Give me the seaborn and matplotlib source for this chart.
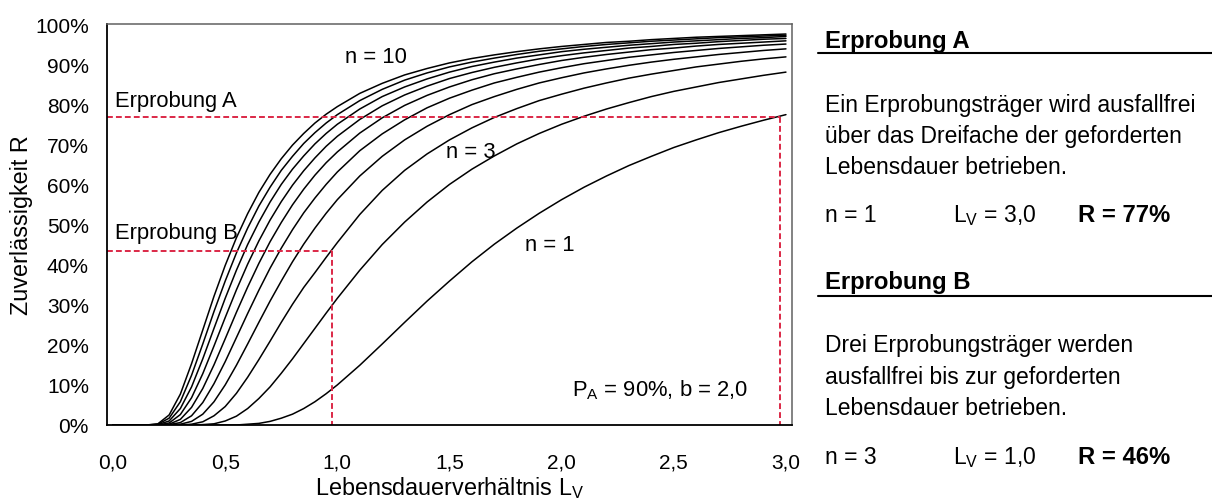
import numpy as np
import pandas as pd
import matplotlib
matplotlib.use("Agg")
import matplotlib.pyplot as plt
import seaborn as sns
from matplotlib.lines import Line2D
from matplotlib.ticker import FixedLocator

# ---------------- data ----------------
L_values = [0.00, 0.05, 0.10, 0.15, 0.20, 0.25, 0.30, 0.35, 0.40, 0.45, 0.50,
            0.55, 0.60, 0.65, 0.70, 0.75, 0.80, 0.85, 0.90, 0.95, 1.00,
            1.1, 1.2, 1.3, 1.4, 1.5, 1.6, 1.7, 1.8, 1.9, 2.0,
            2.1, 2.2, 2.3, 2.4, 2.5, 2.6, 2.7, 2.8, 2.9, 3.0]

R_n1 = [0, 0, 0, 0, 0.000, 0.000, 0.000, 0.000, 0.000, 0.000, 0.000,
        0.000, 0.002, 0.004, 0.009, 0.017, 0.027, 0.041, 0.058, 0.078, 0.100,
        0.149, 0.202, 0.256, 0.309, 0.359, 0.407, 0.451, 0.491, 0.528, 0.562,
        0.593, 0.621, 0.647, 0.670, 0.692, 0.711, 0.729, 0.745, 0.760, 0.774]
R_n2 = [0, 0, 0, 0, 0.000, 0.000, 0.000, 0.000, 0.001, 0.003, 0.010,
        0.022, 0.041, 0.066, 0.095, 0.129, 0.165, 0.203, 0.241, 0.279, 0.316,
        0.386, 0.450, 0.506, 0.556, 0.600, 0.638, 0.671, 0.701, 0.727, 0.750,
        0.770, 0.788, 0.804, 0.819, 0.832, 0.843, 0.854, 0.863, 0.872, 0.880]
R_n3 = [0, 0, 0, 0, 0.000, 0.000, 0.000, 0.002, 0.008, 0.023, 0.046,
        0.079, 0.119, 0.163, 0.209, 0.256, 0.301, 0.343, 0.380, 0.418, 0.455,
        0.525, 0.585, 0.635, 0.676, 0.711, 0.741, 0.767, 0.789, 0.809, 0.825,
        0.840, 0.853, 0.865, 0.875, 0.884, 0.893, 0.900, 0.907, 0.913, 0.918]
R_n4 = [0, 0, 0, 0, 0.000, 0.000, 0.002, 0.009, 0.027, 0.058, 0.100,
        0.149, 0.202, 0.256, 0.309, 0.359, 0.407, 0.451, 0.491, 0.528, 0.562,
        0.621, 0.670, 0.711, 0.745, 0.774, 0.799, 0.819, 0.837, 0.853, 0.866,
        0.878, 0.888, 0.897, 0.905, 0.912, 0.918, 0.924, 0.929, 0.934, 0.938]
R_n5 = [0, 0, 0, 0, 0.000, 0.001, 0.006, 0.023, 0.056, 0.103, 0.158,
        0.218, 0.278, 0.336, 0.391, 0.441, 0.487, 0.529, 0.566, 0.600, 0.631,
        0.684, 0.726, 0.761, 0.791, 0.815, 0.835, 0.853, 0.867, 0.880, 0.891,
        0.901, 0.909, 0.917, 0.923, 0.929, 0.934, 0.939, 0.943, 0.947, 0.950]
R_n6 = [0, 0, 0, 0, 0.000, 0.002, 0.014, 0.044, 0.091, 0.150, 0.215,
        0.281, 0.344, 0.403, 0.457, 0.505, 0.549, 0.588, 0.623, 0.654, 0.681,
        0.728, 0.766, 0.797, 0.822, 0.843, 0.861, 0.876, 0.888, 0.899, 0.909,
        0.917, 0.924, 0.930, 0.936, 0.940, 0.945, 0.949, 0.952, 0.955, 0.958]
R_n7 = [0, 0, 0, 0, 0.000, 0.005, 0.026, 0.068, 0.128, 0.197, 0.268,
        0.337, 0.401, 0.459, 0.511, 0.557, 0.598, 0.634, 0.666, 0.695, 0.720,
        0.762, 0.796, 0.823, 0.845, 0.864, 0.879, 0.892, 0.903, 0.913, 0.921,
        0.928, 0.934, 0.940, 0.944, 0.949, 0.952, 0.956, 0.959, 0.962, 0.964]
R_n8 = [0, 0, 0, 0, 0.001, 0.010, 0.041, 0.095, 0.165, 0.241, 0.316,
        0.386, 0.450, 0.506, 0.556, 0.600, 0.638, 0.671, 0.701, 0.727, 0.750,
        0.788, 0.819, 0.843, 0.863, 0.880, 0.894, 0.905, 0.915, 0.923, 0.931,
        0.937, 0.942, 0.947, 0.951, 0.955, 0.958, 0.961, 0.964, 0.966, 0.969]
R_n9 = [0, 0, 0, 0, 0.002, 0.017, 0.058, 0.124, 0.202, 0.283, 0.359,
        0.429, 0.491, 0.546, 0.593, 0.635, 0.670, 0.702, 0.729, 0.753, 0.774,
        0.809, 0.837, 0.860, 0.878, 0.893, 0.905, 0.915, 0.924, 0.932, 0.938,
        0.944, 0.949, 0.953, 0.957, 0.960, 0.963, 0.966, 0.968, 0.970, 0.972]
R_n10 = [0, 0, 0, 0, 0.003, 0.025, 0.077, 0.153, 0.237, 0.321, 0.398,
         0.467, 0.527, 0.580, 0.625, 0.664, 0.698, 0.727, 0.753, 0.775, 0.794,
         0.827, 0.852, 0.873, 0.889, 0.903, 0.914, 0.923, 0.931, 0.938, 0.944,
         0.949, 0.954, 0.957, 0.961, 0.964, 0.967, 0.969, 0.971, 0.973, 0.975]

series = [R_n1, R_n2, R_n3, R_n4, R_n5, R_n6, R_n7, R_n8, R_n9, R_n10]
series_names = ["n = %d" % (i + 1) for i in range(10)]

# test points (Erprobung A / B) as drawn
test_L = [3.0, 1.0]
test_R = [0.768, 0.434]

x_ticks = [0.0, 0.5, 1.0, 1.5, 2.0, 2.5, 3.0]
x_ticklabels = ["0,0", "0,5", "1,0", "1,5", "2,0", "2,5", "3,0"]
y_ticks = [0.0, 0.1, 0.2, 0.3, 0.4, 0.5, 0.6, 0.7, 0.8, 0.9, 1.0]
y_ticklabels = ["0%", "10%", "20%", "30%", "40%", "50%", "60%", "70%", "80%", "90%", "100%"]

# ---------------- style ----------------
sns.set_style("white")
plt.rcParams["font.family"] = ["Liberation Sans", "DejaVu Sans"]
plt.rcParams["mathtext.fontset"] = "custom"
plt.rcParams["mathtext.rm"] = "Liberation Sans"
plt.rcParams["mathtext.it"] = "Liberation Sans:italic"
plt.rcParams["mathtext.bf"] = "Liberation Sans:bold"
plt.rcParams["text.color"] = "black"
plt.rcParams["axes.labelcolor"] = "black"

FS_TICK = 15
FS_ANN = 15.8
FS_LAB = 16.8
FS_PANEL = 16.5
FS_BOLD = 17.2
W, H = 1212, 502

# Excel category axis: tick marks sit slightly left of the label positions
TICK_SHIFT = 0.025
XMIN, XMAX = -0.027, 3.027

df = pd.concat([pd.DataFrame({"L": L_values, "R": vals, "n": name})
                for vals, name in zip(series, series_names)], ignore_index=True)

fig = plt.figure(figsize=(W / 100, H / 100), dpi=100)
ax = fig.add_axes([107 / W, 1 - 426 / H, (792 - 107) / W, (426 - 25) / H])

sns.lineplot(data=df, x="L", y="R", hue="n", palette=["black"] * 10,
             legend=False, ax=ax, linewidth=1.1, estimator=None, sort=False)

red = "#DC2846"
for tl, tr in zip(test_L, test_R):
    xv = tl - TICK_SHIFT
    ax.plot([XMIN, xv], [tr, tr], color=red, lw=1.4, dashes=(3, 1.6))
    ax.plot([xv, xv], [tr, 0], color=red, lw=1.4, dashes=(3, 1.6))

ax.set_xlim(XMIN, XMAX)
ax.set_ylim(0, 1)
ax.set_xticks(x_ticks, x_ticklabels)
ax.xaxis.set_minor_locator(FixedLocator([t - TICK_SHIFT for t in x_ticks]))
ax.set_yticks(y_ticks, y_ticklabels)
ax.tick_params(axis="x", which="major", length=0, pad=20,
               labelsize=FS_TICK, labelcolor="black")
ax.tick_params(axis="x", which="minor", direction="in", length=5.8,
               width=1.0, color="#555555")
ax.tick_params(axis="y", direction="in", length=5.8, width=1.0,
               color="#555555", labelsize=FS_TICK, labelcolor="black", pad=13)

for s in ["left", "bottom"]:
    ax.spines[s].set_color("black")
    ax.spines[s].set_linewidth(1.3)
for s in ["top", "right"]:
    ax.spines[s].set_color("#606060")
    ax.spines[s].set_linewidth(1.1)

ax.set_xlabel(r"Lebensdauerverhältnis L$_\mathregular{V}$", fontsize=FS_LAB,
              va="baseline")
ax.xaxis.set_label_coords(0.5, (426 - 495) / 401)
ax.set_ylabel("Zuverlässigkeit R", fontsize=FS_LAB, va="center")
ax.yaxis.set_label_coords((22 - 107) / 685, 0.5)

# in-plot annotations
ax.text(1.172, 0.920, "n = 10", fontsize=FS_ANN, ha="center", va="center")
ax.text(0.009, 0.808, "Erprobung A", fontsize=FS_ANN, ha="left", va="center")
ax.text(0.009, 0.481, "Erprobung B", fontsize=FS_ANN, ha="left", va="center")
ax.text(1.596, 0.683, "n = 3", fontsize=FS_ANN, ha="center", va="center")
ax.text(1.948, 0.451, "n = 1", fontsize=FS_ANN, ha="center", va="center")
ax.text(2.046, 0.075, r"P$_\mathregular{A}$ = 90%, b = 2,0", fontsize=FS_ANN,
        ha="left", va="baseline")

# right panel
def ftext(px, py, s, size=FS_PANEL, **kw):
    fig.text(px / W, 1 - py / H, s, fontsize=size, va="baseline", **kw)

def hline(py, x0=818, x1=1212):
    fig.add_artist(Line2D([x0 / W, x1 / W], [1 - py / H, 1 - py / H],
                          color="black", lw=1.5, transform=fig.transFigure))

ftext(825, 48, "Erprobung A", size=FS_BOLD, fontweight="bold")
hline(54)
ftext(825, 112, "Ein Erprobungsträger wird ausfallfrei")
ftext(825, 143, "über das Dreifache der geforderten")
ftext(825, 174, "Lebensdauer betrieben.")
ftext(825, 222, "n = 1")
ftext(953, 222, r"L$_\mathregular{V}$ = 3,0")
ftext(1078, 222, "R = 77%", size=FS_BOLD, fontweight="bold")

ftext(825, 289, "Erprobung B", size=FS_BOLD, fontweight="bold")
hline(297)
ftext(825, 352, "Drei Erprobungsträger werden")
ftext(825, 384, "ausfallfrei bis zur geforderten")
ftext(825, 415, "Lebensdauer betrieben.")
ftext(825, 464, "n = 3")
ftext(953, 464, r"L$_\mathregular{V}$ = 1,0")
ftext(1078, 464, "R = 46%", size=FS_BOLD, fontweight="bold")

fig.savefig("out.png", dpi=100)
